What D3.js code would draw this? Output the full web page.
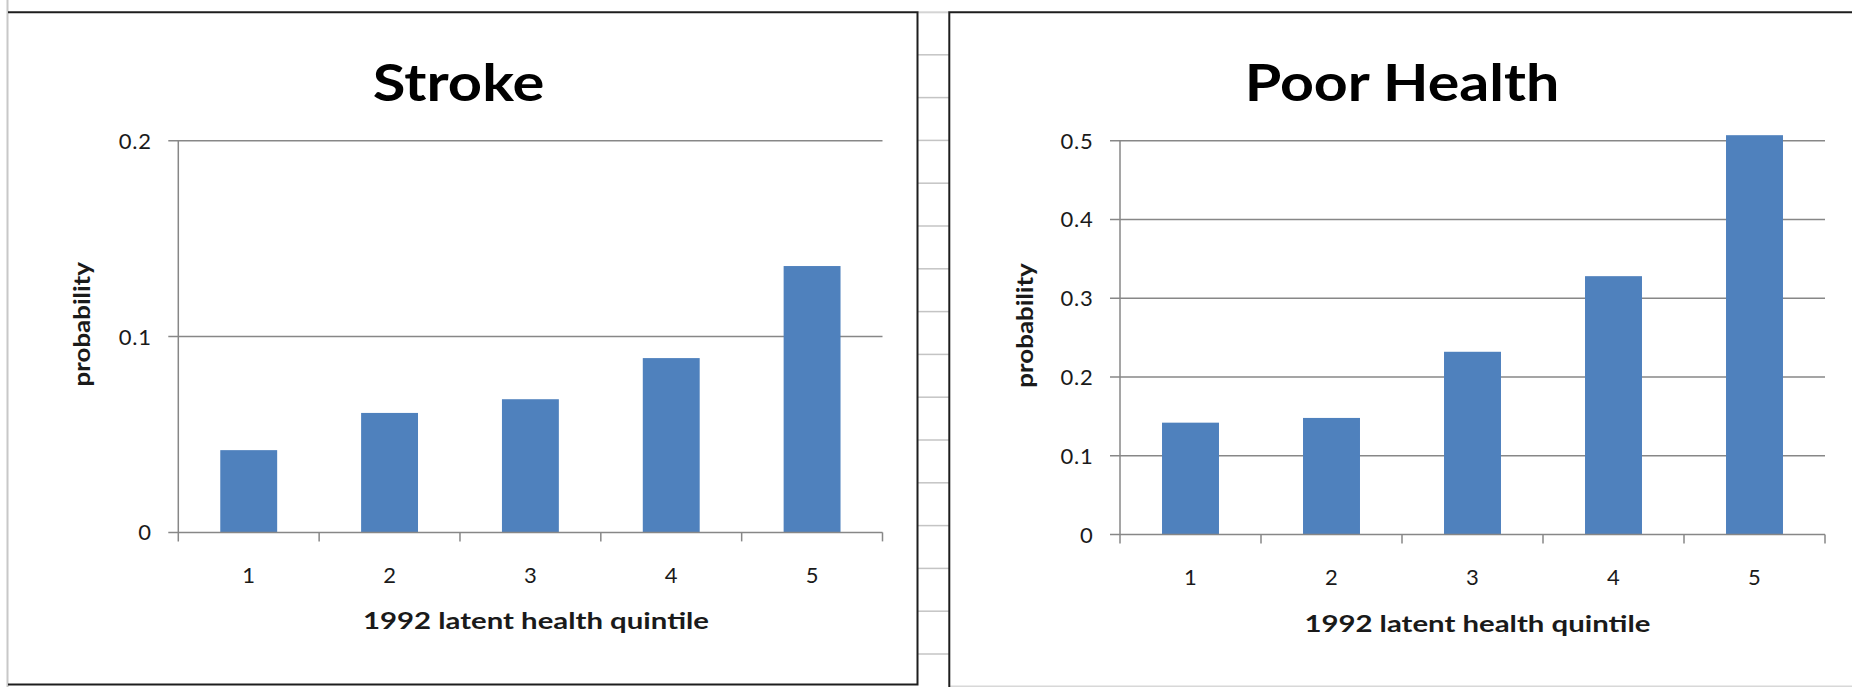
<!DOCTYPE html>
<html>
<head>
<meta charset="utf-8">
<script src="https://cdn.jsdelivr.net/npm/d3@7"></script>
<style>
  html, body { margin: 0; padding: 0; background: #fff; }
  svg { display: block; }
</style>
</head>
<body>
<svg id="chart" width="1852" height="687"></svg>
<script>
// ---- data ----
const categories = ["1", "2", "3", "4", "5"];
const strokeValues = [0.042, 0.061, 0.068, 0.089, 0.136];
const poorHealthValues = [0.142, 0.148, 0.232, 0.328, 0.507];
const strokeTicks = [0, 0.1, 0.2];
const poorHealthTicks = [0, 0.1, 0.2, 0.3, 0.4, 0.5];
const strokeTickLabels = ["0", "0.1", "0.2"];
const poorHealthTickLabels = ["0", "0.1", "0.2", "0.3", "0.4", "0.5"];
const xAxisTitle = "1992 latent health quintile";
const yAxisTitle = "probability";

const svg = d3.select("#chart");
const W = 1852, H = 687;
const FONT = "Lato, 'Open Sans', 'DejaVu Sans', sans-serif";
const GRID = "#878787";
const BAR = "#4f81bd";

// ---- background decoration (spreadsheet look) ----
svg.append("rect").attr("width", W).attr("height", H).attr("fill", "#fff");
// left grey cell border
svg.append("line").attr("x1", 7.5).attr("x2", 7.5).attr("y1", 0).attr("y2", H)
  .attr("stroke", "#c8c8c8").attr("stroke-width", 2);
// strip between the two chart panes: spreadsheet row lines
const stripRows = d3.range(0, 15).map(i => 54.8 + i * 42.8);
svg.append("line").attr("x1", 918).attr("x2", 949).attr("y1", 12.3).attr("y2", 12.3)
  .attr("stroke", "#d4d4d4").attr("stroke-width", 2);
svg.selectAll("line.row").data(stripRows).join("line").attr("class", "row")
  .attr("x1", 918).attr("x2", 949).attr("y1", d => d).attr("y2", d => d)
  .attr("stroke", "#c4c4c4").attr("stroke-width", 1.5);
// faint bottom line on the right pane
svg.append("line").attr("x1", 950).attr("x2", W).attr("y1", 686.2).attr("y2", 686.2)
  .attr("stroke", "#d8d8d8").attr("stroke-width", 1.5);

// pane frames
const frame = svg.append("g").attr("stroke", "#1e1e1e").attr("stroke-width", 2).attr("fill", "none");
frame.append("path").attr("d", "M8,12.3 H917.5 V684.5 H8");
frame.append("path").attr("d", "M949.3,687 V12.3 H1852");

// ---- panels ----
function drawPanel(cfg) {
  const g = svg.append("g");
  const x = d3.scaleBand().domain(categories)
    .range([cfg.x0, cfg.x1]).paddingInner(0.596).paddingOuter(0.298);
  const xEdge = d3.scaleLinear().domain([0, categories.length]).range([cfg.x0, cfg.x1]);
  const y = d3.scaleLinear().domain([0, cfg.max]).range([cfg.yBottom, cfg.yTop]);

  // gridlines (incl. tick stubs to the left)
  g.selectAll("line.grid").data(cfg.ticks.filter(t => t > 0)).join("line")
    .attr("class", "grid")
    .attr("x1", cfg.x0 - 10).attr("x2", cfg.x1)
    .attr("y1", d => y(d)).attr("y2", d => y(d))
    .attr("stroke", GRID).attr("stroke-width", 1.5);

  // bars
  g.selectAll("rect.bar").data(cfg.values).join("rect")
    .attr("class", "bar")
    .attr("x", (d, i) => x(categories[i]))
    .attr("width", x.bandwidth())
    .attr("y", d => y(d))
    .attr("height", d => y(0) - y(d))
    .attr("fill", BAR);

  // axes lines
  g.append("line").attr("x1", cfg.x0).attr("x2", cfg.x0)
    .attr("y1", y(cfg.max)).attr("y2", y(0) + 9)
    .attr("stroke", GRID).attr("stroke-width", 1.5);
  g.append("line").attr("x1", cfg.x0 - 10).attr("x2", cfg.x1)
    .attr("y1", y(0)).attr("y2", y(0))
    .attr("stroke", GRID).attr("stroke-width", 1.5);
  // x tick marks at category edges
  g.selectAll("line.xtick").data(d3.range(1, categories.length + 1)).join("line")
    .attr("class", "xtick")
    .attr("x1", d => xEdge(d)).attr("x2", d => xEdge(d))
    .attr("y1", y(0)).attr("y2", y(0) + 9)
    .attr("stroke", GRID).attr("stroke-width", 1.5);

  // y tick labels
  g.selectAll("text.ytl").data(cfg.ticks).join("text")
    .attr("class", "ytl")
    .attr("x", cfg.x0 - 26.5).attr("y", d => y(d) + 8)
    .attr("text-anchor", "end")
    .attr("font-family", FONT).attr("font-size", 22).attr("letter-spacing", 0.8)
    .attr("fill", "#1a1a1a")
    .text((d, i) => cfg.tickLabels[i]);

  // x tick labels
  g.selectAll("text.xtl").data(categories).join("text")
    .attr("class", "xtl")
    .attr("x", d => x(d) + x.bandwidth() / 2)
    .attr("y", y(0) + 50.5)
    .attr("text-anchor", "middle")
    .attr("font-family", FONT).attr("font-size", 22)
    .attr("fill", "#1a1a1a")
    .text(d => d);

  // title
  g.append("text")
    .attr("x", cfg.titleX).attr("y", 101)
    .attr("text-anchor", "middle")
    .attr("font-family", FONT).attr("font-weight", "bold").attr("font-size", 51)
    .attr("textLength", cfg.titleLen).attr("lengthAdjust", "spacingAndGlyphs")
    .attr("fill", "#000")
    .text(cfg.title);

  // x axis title
  g.append("text")
    .attr("x", cfg.xTitleX).attr("y", y(0) + 97)
    .attr("text-anchor", "middle")
    .attr("font-family", FONT).attr("font-weight", "bold").attr("font-size", 22)
    .attr("textLength", 346).attr("lengthAdjust", "spacingAndGlyphs")
    .attr("fill", "#1a1a1a")
    .text(xAxisTitle);

  // y axis title
  g.append("text")
    .attr("transform", `translate(${cfg.yTitleX},${cfg.yTitleY}) rotate(-90)`)
    .attr("text-anchor", "middle")
    .attr("font-family", FONT).attr("font-weight", "bold").attr("font-size", 22)
    .attr("textLength", 124.5).attr("lengthAdjust", "spacingAndGlyphs")
    .attr("fill", "#1a1a1a")
    .text(yAxisTitle);
}

drawPanel({
  title: "Stroke", titleX: 458.6, titleLen: 171.5,
  values: strokeValues, ticks: strokeTicks, tickLabels: strokeTickLabels, max: 0.2,
  x0: 178.3, x1: 882.5, yTop: 140.7, yBottom: 532.4,
  xTitleX: 536, yTitleX: 89.5, yTitleY: 324.3
});
drawPanel({
  title: "Poor Health", titleX: 1402, titleLen: 314.6,
  values: poorHealthValues, ticks: poorHealthTicks, tickLabels: poorHealthTickLabels, max: 0.5,
  x0: 1120, x1: 1825, yTop: 140.7, yBottom: 534.5,
  xTitleX: 1477.4, yTitleX: 1032.5, yTitleY: 325.5
});
</script>
</body>
</html>
